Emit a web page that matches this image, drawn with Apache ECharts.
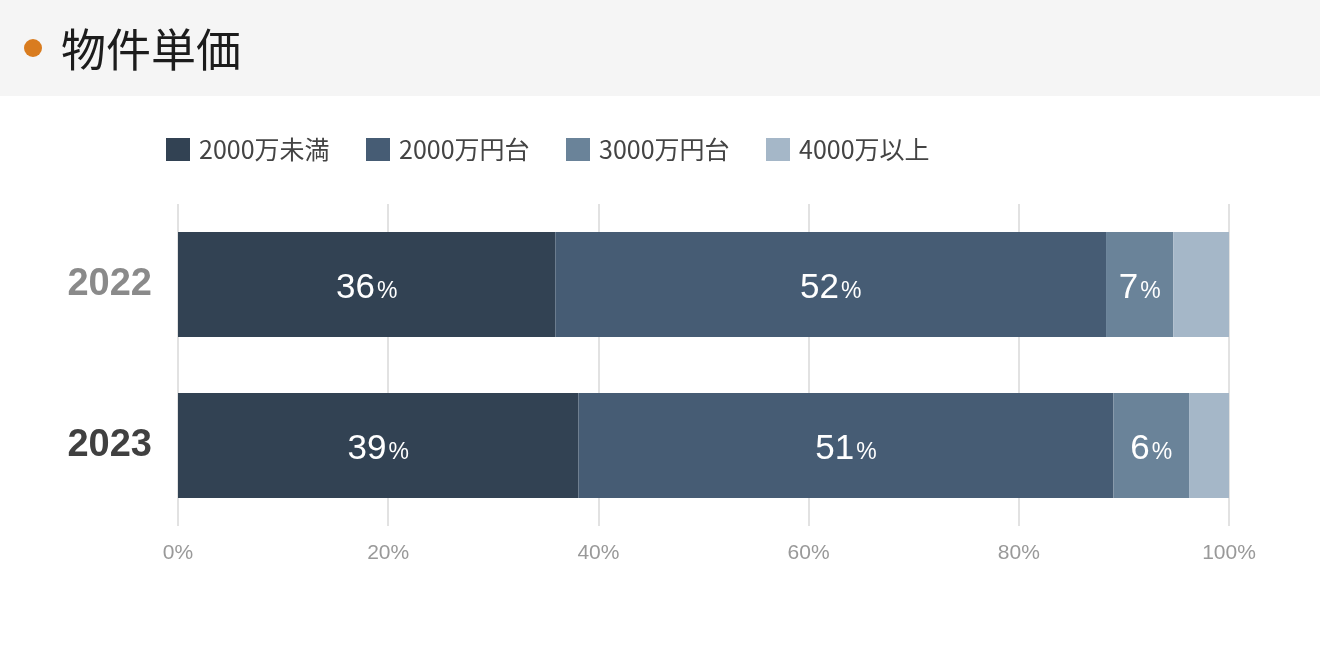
<!DOCTYPE html>
<html>
<head>
<meta charset="utf-8">
<script src="https://cdn.jsdelivr.net/npm/echarts@6/dist/echarts.min.js"></script>
<style>
html,body{margin:0;padding:0;background:#fff;}
#c{width:1320px;height:654px;}
</style>
</head>
<body>
<div id="c"></div>
<script>
const categories = ['2022', '2023'];
const seriesNames = ['2000万未満', '2000万円台', '3000万円台', '4000万以上'];
const seriesColors = ['#324253', '#465c74', '#6a8399', '#a5b7c8'];
const under2000 = [35.9, 38.1];
const s2000 = [52.4, 50.9];
const s3000 = [6.4, 7.2];
const over4000 = [5.3, 3.8];
const labelsUnder2000 = ['36', '39'];
const labels2000 = ['52', '51'];
const labels3000 = ['7', '6'];
const labelsOver4000 = [null, null];

const values = [under2000, s2000, s3000, over4000];
const labelSets = [labelsUnder2000, labels2000, labels3000, labelsOver4000];
const FONT = '"Noto Sans CJK JP", "Noto Sans", sans-serif';
const LATIN = '"Liberation Sans", Arial, sans-serif';

const legends = seriesNames.map(function (name, i) {
  return {
    top: 137, left: 166 + i * 200, padding: 0,
    itemWidth: 24, itemHeight: 23,
    icon: 'rect',
    textStyle: { fontSize: 25, color: '#444', fontFamily: FONT, padding: [0, 0, 0, 4] },
    data: [name]
  };
});

const chart = echarts.init(document.getElementById('c'));
chart.setOption({
  animation: false,
  textStyle: { fontFamily: FONT },
  graphic: [
    { type: 'rect', shape: { x: 0, y: 0, width: 1320, height: 96 }, style: { fill: '#f5f5f5' }, z: -10 },
    { type: 'circle', shape: { cx: 33, cy: 48, r: 9 }, style: { fill: '#d97c1f' } }
  ],
  title: {
    text: '物件単価',
    left: 56, top: 22,
    textStyle: { fontSize: 45, fontWeight: 'normal', color: '#1c1c1c', fontFamily: FONT }
  },
  legend: legends,
  grid: { left: 178, right: 91, top: 204, bottom: 128 },
  xAxis: {
    type: 'value', min: 0, max: 100, interval: 20,
    axisLine: { show: false }, axisTick: { show: false },
    splitLine: { lineStyle: { color: '#e2e2e2', width: 2 } },
    axisLabel: { formatter: '{value}%', color: '#999', fontSize: 21, margin: 17, fontFamily: LATIN }
  },
  yAxis: {
    type: 'category', data: categories, inverse: true,
    axisLine: { show: false }, axisTick: { show: false },
    axisLabel: {
      margin: 26,
      formatter: function (v) { return v === '2022' ? '{a|' + v + '}' : '{b|' + v + '}'; },
      rich: {
        a: { fontSize: 38, fontWeight: 'bold', color: '#8a8a8a', fontFamily: LATIN },
        b: { fontSize: 38, fontWeight: 'bold', color: '#404040', fontFamily: LATIN }
      }
    }
  },
  series: seriesNames.map(function (name, i) {
    return {
      name: name, type: 'bar', stack: 'total',
      barWidth: 105,
      itemStyle: { color: seriesColors[i] },
      data: values[i],
      label: {
        show: true, position: 'inside', offset: [0, 4],
        formatter: function (p) {
          const t = labelSets[i][p.dataIndex];
          return t ? '{n|' + t + '}{p|%}' : '';
        },
        rich: {
          n: { fontSize: 35, color: '#fff', fontFamily: LATIN },
          p: { fontSize: 23, color: '#fff', fontFamily: LATIN, padding: [7, 0, 0, 2] }
        }
      }
    };
  })
});
</script>
</body>
</html>
